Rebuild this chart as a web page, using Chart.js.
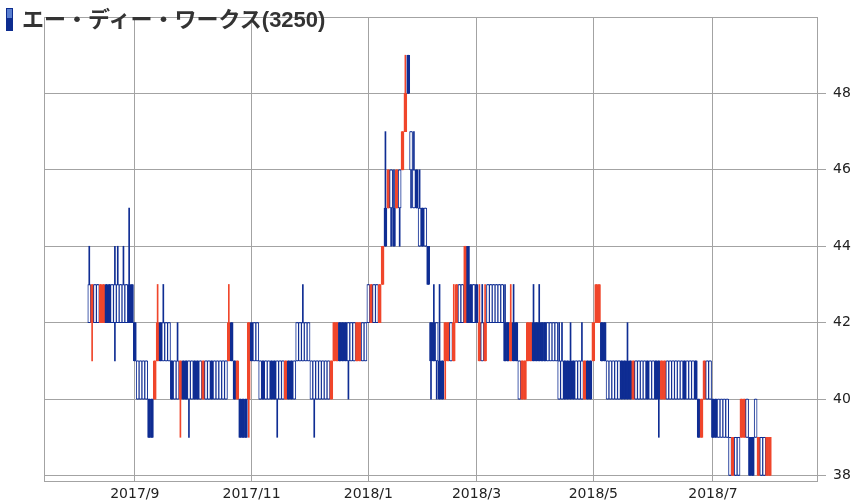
<!DOCTYPE html>
<html lang="ja">
<head>
<meta charset="utf-8">
<title>エー・ディー・ワークス(3250)</title>
<script src="https://cdn.jsdelivr.net/npm/chart.js@4.4.1/dist/chart.umd.min.js"></script>
<style>
  html, body { margin: 0; padding: 0; background: #fff; }
  #wrap { position: relative; width: 853px; height: 503px; overflow: hidden; }
  #chart { position: absolute; left: 0; top: 0; }
  #title {
    position: absolute; left: 22px; top: 1px; white-space: nowrap;
    font: bold 22px "Liberation Sans", "Noto Sans CJK JP", sans-serif; color: #333;
  }
  #mark {
    position: absolute; left: 6px; top: 8px; width: 5px; height: 21px;
    border: 1px solid #0d2c8f;
    background: linear-gradient(#5a7fd0 0 45%, #0d2c8f 45% 100%);
  }
</style>
</head>
<body>
<div id="wrap">
  <canvas id="chart" width="853" height="503"></canvas>
  <div id="mark"></div>
  <div id="title">エー・ディー・ワークス(3250)</div>
</div>
<script>
// one entry per trading day, 2017/8/9 .. 2018/7/31
// w = hollow blue, b = filled blue, r = red
const kinds = [
  "w","r","w","w","r","r","b","b","w","w",
  "w","w","w","w","b","b","b","w","w","w",
  "w","b","b","r","r","b","w","w","w","b",
  "w","w","r","b","b","w","w","b","b","w",
  "r","w","w","b","w","w","w","w","w","r",
  "b","b","r","b","b","b","r","b","w","w",
  "w","b","w","w","b","b","w","w","w","r",
  "b","b","w","w","w","w","w","w","w","w",
  "w","w","w","w","w","r","r","r","b","b",
  "b","w","w","w","r","r","w","w","w","r",
  "w","w","r","r","b","r","w","b","r","w",
  "r","r","b","w","w","b","w","b","w","b",
  "b","b","w","b","b","r","r","w","r","r",
  "w","w","r","b","b","w","b","r","w","r",
  "w","w","w","w","w","w","b","b","r","b",
  "b","w","r","r","r","r","b","b","b","b",
  "b","w","w","w","w","w","w","b","b","b",
  "b","w","w","w","r","b","b","r","r","r",
  "b","b","w","w","w","w","w","b","b","b",
  "b","r","w","w","w","w","b","w","w","b",
  "b","r","r","w","w","w","w","w","w","b",
  "w","w","w","b","b","r","r","w","w","b",
  "b","w","w","w","w","w","r","w","w","r",
  "r","w","b","b","w","r","w","w","r","r"
];

const bodyLow = [
  42,42,42,42,42,42,42,42,42,42, 42,42,42,42,42,42,41,40,40,40,
  40,39,39,40,41,41,41,41,41,40, 40,40,40,40,40,40,40,40,40,40,
  40,40,40,40,40,40,40,40,40,41, 41,40,40,39,39,39,40,41,41,41,
  40,40,40,40,40,40,40,40,40,40, 40,40,40,41,41,41,41,41,40,40,
  40,40,40,40,40,40,41,41,41,41, 41,41,41,41,41,41,41,41,42,42,
  42,42,42,43,44,45,45,44,45,45, 46,47,48,46,45,45,44,44,44,43,
  41,41,41,40,40,41,41,41,41,42, 42,42,42,42,42,42,42,41,41,41,
  42,42,42,42,42,42,41,41,41,41, 41,40,40,40,41,41,41,41,41,41,
  41,41,41,41,41,40,40,40,40,40, 40,40,40,40,40,40,40,41,42,42,
  41,41,40,40,40,40,40,40,40,40, 40,40,40,40,40,40,40,40,40,40,
  40,40,40,40,40,40,40,40,40,40, 40,40,40,40,39,39,40,40,40,39,
  39,39,39,39,39,38,38,38,38,39, 39,39,38,38,39,38,38,38,38,38
];

const bodyHigh = [
  43,43,43,43,43,43,43,43,43,43, 43,43,43,43,43,43,42,41,41,41,
  41,40,40,41,42,42,42,42,42,41, 41,41,41,41,41,41,41,41,41,41,
  41,41,41,41,41,41,41,41,41,42, 42,41,41,40,40,40,42,42,42,42,
  41,41,41,41,41,41,41,41,41,41, 41,41,41,42,42,42,42,42,41,41,
  41,41,41,41,41,41,42,42,42,42, 42,42,42,42,42,42,42,42,43,43,
  43,43,43,44,45,46,46,45,46,46, 47,48,49,47,46,46,45,45,45,44,
  42,42,42,41,41,42,42,42,42,43, 43,43,44,44,43,43,43,42,42,42,
  43,43,43,43,43,43,42,42,42,42, 42,41,41,41,42,42,42,42,42,42,
  42,42,42,42,42,41,41,41,41,41, 41,41,41,41,41,41,41,42,43,43,
  42,42,41,41,41,41,41,41,41,41, 41,41,41,41,41,41,41,41,41,41,
  41,41,41,41,41,41,41,41,41,41, 41,41,41,41,40,40,41,41,41,40,
  40,40,40,40,40,39,39,39,39,40, 40,40,39,39,40,39,39,39,39,39
];

const lows = [
  42,41,42,42,42,42,42,42,42,41, 42,42,42,42,42,42,41,40,40,40,
  40,39,39,40,41,41,41,41,41,40, 40,40,39,40,40,39,40,40,40,40,
  40,40,40,40,40,40,40,40,40,41, 41,40,40,39,39,39,39,41,41,41,
  40,40,40,40,40,40,39,40,40,40, 40,40,40,41,41,41,41,41,40,39,
  40,40,40,40,40,40,41,41,41,41, 41,40,41,41,41,41,41,41,42,42,
  42,42,42,43,44,45,44,44,45,44, 46,47,48,45,45,45,44,44,44,43,
  40,41,40,40,40,40,41,41,41,42, 42,42,42,42,42,42,42,41,41,41,
  42,42,42,42,42,42,41,41,41,41, 41,40,40,40,41,41,41,41,41,41,
  41,41,41,41,41,40,40,40,40,40, 40,40,40,40,40,40,40,41,42,42,
  41,41,40,40,40,40,40,40,40,40, 40,40,40,40,40,40,40,40,40,40,
  39,40,40,40,40,40,40,40,40,40, 40,40,40,40,39,39,40,40,40,39,
  39,39,39,39,39,38,38,38,38,39, 39,39,38,38,39,38,38,38,38,38
];

const highs = [
  44,43,43,43,43,43,43,43,43,44, 44,43,44,43,45,43,42,41,41,41,
  41,40,40,41,43,42,43,42,42,41, 41,42,41,41,41,41,41,41,41,41,
  41,41,41,41,41,41,41,41,41,43, 42,41,41,40,40,40,42,42,42,42,
  41,41,41,41,41,41,41,41,41,41, 41,41,41,42,42,43,42,42,41,41,
  41,41,41,41,41,41,42,42,42,42, 42,42,42,42,42,42,42,42,43,43,
  43,43,43,44,47,46,46,46,46,46, 47,49,49,47,47,46,46,45,45,44,
  42,43,42,43,41,42,42,42,43,43, 43,43,44,44,43,43,43,43,43,43,
  43,43,43,43,43,43,43,42,43,43, 42,41,41,41,42,42,43,42,43,42,
  42,42,42,42,42,42,42,41,41,42, 41,41,41,42,41,41,41,42,43,43,
  42,42,41,41,41,41,41,41,41,42, 41,41,41,41,41,41,41,41,41,41,
  41,41,41,41,41,41,41,41,41,41, 41,41,41,41,40,40,41,41,41,40,
  40,40,40,40,40,39,39,39,39,40, 40,40,39,39,40,39,39,39,39,39
];

// month gridlines (trading-day index of first session) and their labels
const monthIdx = [16, 57, 98, 136, 177, 219];
const monthLabels = ["2017/9", "2017/11", "2018/1", "2018/3", "2018/5", "2018/7"];
const priceTicks = [38, 40, 42, 44, 46, 48];

const BLUE = "#0f2d93";
const RED = "#f0462b";
const GRID = "#a3a3a3";

const fillOf = (k) => (k === "w" ? "#ffffff" : k === "r" ? RED : BLUE);
const lineOf = (k) => (k === "r" ? RED : BLUE);

const frame = {
  id: "frame",
  beforeDatasetsDraw(chart) {
    const a = chart.chartArea;
    const c = chart.ctx;
    c.save();
    c.strokeStyle = GRID;
    c.lineWidth = 1;
    c.strokeRect(Math.round(a.left) + 0.5, Math.round(a.top) + 0.5,
      Math.round(a.right - a.left) - 1, Math.round(a.bottom - a.top) - 1);
    c.restore();
  },
};

Chart.defaults.font.family = "'DejaVu Sans', sans-serif";
Chart.defaults.font.size = 14;
Chart.defaults.color = "#222";

new Chart(document.getElementById("chart").getContext("2d"), {
  type: "bar",
  data: {
    datasets: [
      {
        label: "body",
        data: bodyLow.map((lo, i) => ({ x: i, y: [lo, bodyHigh[i]] })),
        backgroundColor: kinds.map(fillOf),
        borderColor: kinds.map(lineOf),
        borderWidth: 1,
        borderSkipped: false,
        barThickness: 3,
        grouped: false,
        order: 1,
      },
      {
        label: "wick",
        data: lows.map((lo, i) => ({ x: i, y: [lo, highs[i]] })),
        backgroundColor: kinds.map(lineOf),
        borderWidth: 0,
        barThickness: 1,
        grouped: false,
        order: 2,
      },
    ],
  },
  options: {
    responsive: false,
    animation: false,
    layout: { padding: { left: 44, top: 17, right: 0, bottom: 0 } },
    plugins: { legend: { display: false }, tooltip: { enabled: false } },
    scales: {
      x: {
        type: "linear",
        offset: false,
        min: -15.9,
        max: 255.9,
        afterBuildTicks(axis) {
          axis.ticks = monthIdx.map((v) => ({ value: v }));
        },
        afterFit(axis) {
          axis.height = 21;
        },
        ticks: {
          autoSkip: false,
          maxRotation: 0,
          padding: 4,
          callback(value) {
            const k = monthIdx.indexOf(value);
            return k < 0 ? null : monthLabels[k];
          },
        },
        grid: { color: GRID, drawTicks: false, offset: false },
        border: { display: false },
      },
      y: {
        position: "right",
        min: 37.83,
        max: 50,
        afterBuildTicks(axis) {
          axis.ticks = priceTicks.map((v) => ({ value: v }));
        },
        afterFit(axis) {
          axis.width = 35;
        },
        ticks: { padding: 7 },
        grid: { color: GRID, tickLength: 8 },
        border: { display: false },
      },
    },
  },
  plugins: [frame],
});
</script>
</body>
</html>
